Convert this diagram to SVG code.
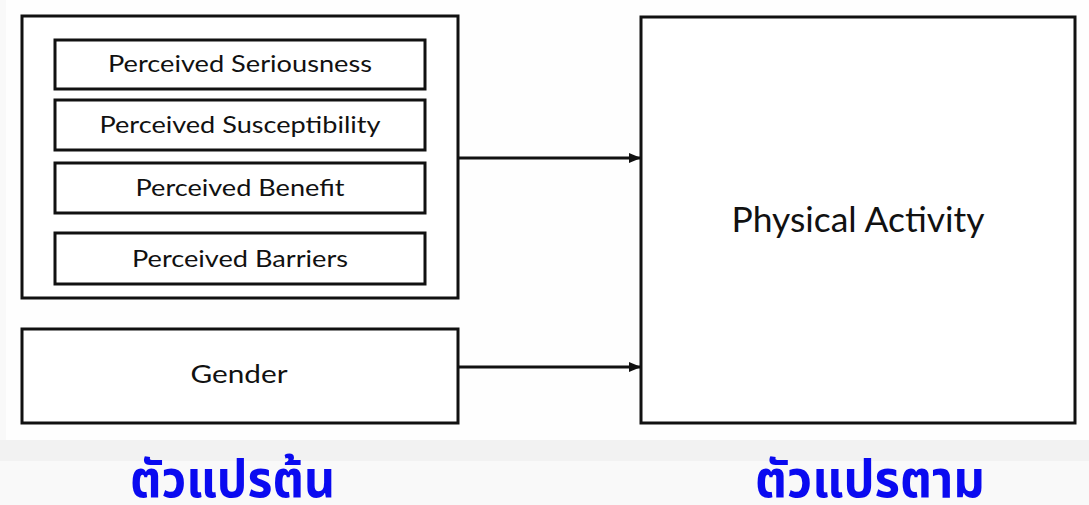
<svg xmlns="http://www.w3.org/2000/svg" width="1089" height="505" viewBox="0 0 1089 505">
<defs>
<style>
.box{fill:#fff;stroke:#111;stroke-width:3}
.lbl{font-family:Lato,"Open Sans","Liberation Sans",sans-serif;fill:#111;text-anchor:middle}
.thai{font-family:"Noto Sans Thai","Noto Sans","DejaVu Sans",sans-serif;font-weight:bold;fill:#0a0af0;font-size:52px}
.conn{stroke:#111;stroke-width:3;fill:none}
</style>
<marker id="arr" markerWidth="12" markerHeight="10" refX="11" refY="5" orient="auto" markerUnits="userSpaceOnUse" viewBox="0 0 12 10">
<path d="M0,0 L12,5 L0,10 z" fill="#111"/>
</marker>
</defs>
<rect x="0" y="0" width="1089" height="505" fill="#f9f9f9"/>
<rect x="6" y="0" width="1083" height="440" fill="#fefefe"/>
<rect x="0" y="440" width="1089" height="21" fill="#f2f2f2"/>
<g id="hbm">
<rect class="box" x="22" y="16" width="436" height="282"/>
</g>
<g id="seriousness">
<rect class="box" x="55" y="40" width="370" height="49"/>
<text class="lbl" x="240" y="72" font-size="24" textLength="264" lengthAdjust="spacingAndGlyphs">Perceived Seriousness</text>
</g>
<g id="susceptibility">
<rect class="box" x="55" y="100" width="370" height="50"/>
<text class="lbl" x="240" y="133" font-size="24" textLength="281" lengthAdjust="spacingAndGlyphs">Perceived Susceptibility</text>
</g>
<g id="benefit">
<rect class="box" x="55" y="163" width="370" height="50"/>
<text class="lbl" x="240" y="196" font-size="24" textLength="209" lengthAdjust="spacingAndGlyphs">Perceived Benefit</text>
</g>
<g id="barriers">
<rect class="box" x="55" y="233" width="370" height="51"/>
<text class="lbl" x="240" y="267" font-size="24" textLength="216" lengthAdjust="spacingAndGlyphs">Perceived Barriers</text>
</g>
<g id="gender">
<rect class="box" x="22" y="329" width="436" height="94"/>
<text class="lbl" x="239" y="383" font-size="25" textLength="97" lengthAdjust="spacingAndGlyphs">Gender</text>
</g>
<g id="physical-activity">
<rect class="box" x="641" y="17" width="434" height="406"/>
<text class="lbl" x="858" y="232" font-size="34" textLength="253" lengthAdjust="spacingAndGlyphs">Physical Activity</text>
</g>
<g id="connectors">
<line class="conn" x1="458" y1="158" x2="640" y2="158" marker-end="url(#arr)"/>
<line class="conn" x1="458" y1="367" x2="640" y2="367" marker-end="url(#arr)"/>
</g>
<g id="labels">
<text class="thai" x="130" y="497" textLength="205" lengthAdjust="spacingAndGlyphs">ตัวแปรต้น</text>
<text class="thai" x="755" y="497" textLength="230" lengthAdjust="spacingAndGlyphs">ตัวแปรตาม</text>
</g>
</svg>
